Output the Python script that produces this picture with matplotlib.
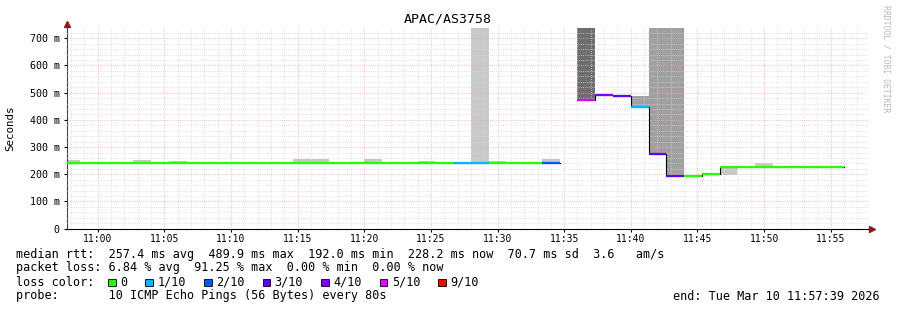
import numpy as np
import matplotlib.pyplot as plt

plt.rcParams['font.family'] = 'DejaVu Sans Mono'

# --- data ---
# one value per 80 s RRD step, first step starts at 10:57:20
step_min = 80 / 60
first_step = -2

median_s = [0.2415] * 22 + [0.2415, 0.2415] + [0.2415] * 3 + [0.2415] + \
    [np.nan, 0.474, 0.4915, 0.4867, 0.4485, 0.2735, 0.193, 0.193, 0.201] + [0.2282] * 7
loss_pings = [0] * 22 + [1, 1] + [0] * 3 + [2] + \
    [10, 5, 4, 3, 1, 3, 3, 0, 0] + [0] * 7

# smoke (spread of the 10 pings) for the steps where it shows
smoke_steps = [0, 4, 6, 13, 14, 17, 20, 23, 24, 27, 29, 32, 33, 34, 37, 39]
smoke_lo = [0.2415, 0.2415, 0.2415, 0.2415, 0.2415, 0.2415, 0.2415, 0.2415,
            0.2415, 0.2415, 0.474, 0.4485, 0.2735, 0.193, 0.1985, 0.2282]
smoke_hi = [0.251, 0.251, 0.248, 0.256, 0.256, 0.256, 0.249, 0.738,
            0.249, 0.256, 0.738, 0.488, 0.738, 0.738, 0.2282, 0.2415]
smoke_level = [0, 0, 0, 0, 0, 0, 0, 0, 0, 0, 2, 1, 1, 1, 0, 0]

yticks = [0, 0.1, 0.2, 0.3, 0.4, 0.5, 0.6, 0.7]
ytick_labels = ['0', '100 m', '200 m', '300 m', '400 m', '500 m', '600 m', '700 m']
xticks = list(range(0, 60, 5))
xtick_labels = ['11:%02d' % m for m in xticks]

loss_legend = ['0', '1/10', '2/10', '3/10', '4/10', '5/10', '9/10']
loss_legend_colors = ['#26ff00', '#00b8ff', '#0059ff', '#5e00ff', '#7e00ff', '#dd00ff', '#ff0000']

stats_lines = [
    'median rtt:  257.4 ms avg  489.9 ms max  192.0 ms min  228.2 ms now  70.7 ms sd  3.6   am/s',
    'packet loss: 6.84 % avg  91.25 % max  0.00 % min  0.00 % now',
    'loss color:',
    'probe:       10 ICMP Echo Pings (56 Bytes) every 80s',
]
end_text = 'end: Tue Mar 10 11:57:39 2026'


def loss_color(n):
    # smokeping picks the colour of the highest threshold <= loss
    thresholds = [0, 1, 2, 3, 4, 5, 9]
    idx = max(i for i, t in enumerate(thresholds) if n >= t)
    return loss_legend_colors[idx]


W, H = 897, 310
fig = plt.figure(figsize=(W / 100, H / 100), dpi=100)
fig.patch.set_facecolor('white')

left, right, top, bottom = 66.7, 868, 27, 228.7
ax = fig.add_axes([left / W, 1 - bottom / H, (right - left) / W, (bottom - top) / H])

starts = (np.arange(len(median_s)) + first_step) * step_min
median = np.array(median_s)

# smoke
shades = ['#c8c8c8', '#a0a0a0', '#6e6e6e']
sm_x = starts[smoke_steps]
ax.bar(sm_x, np.array(smoke_hi) - np.array(smoke_lo), width=step_min, bottom=smoke_lo,
       align='edge', color=[shades[l] for l in smoke_level], linewidth=0, zorder=1)

# black step outline of the median, then the loss-coloured segments
ax.step(np.append(starts, starts[-1] + step_min), np.append(median, median[-1]),
        where='post', color='black', lw=0.8, zorder=3)
seg_colors = [loss_color(n) for n in loss_pings]
ok = ~np.isnan(median)
ax.hlines(median[ok], starts[ok], starts[ok] + step_min,
          colors=[c for c, o in zip(seg_colors, ok) if o], lw=1.6, zorder=4)

ax.set_xlim(-2.33, 57.8)
ax.set_ylim(0, 0.7415)

ax.set_xticks(xticks)
ax.set_xticklabels(xtick_labels, fontsize=7)
ax.set_xticks(np.arange(-2, 58), minor=True)
ax.set_yticks(yticks)
ax.set_yticklabels(ytick_labels, fontsize=7.2)
ax.set_yticks(np.arange(0, 0.74, 0.02), minor=True)
ax.tick_params(which='major', length=2, width=0.8)
ax.tick_params(axis='x', which='major', pad=1.5)
ax.tick_params(axis='y', which='major', pad=3)
ax.tick_params(which='minor', length=0)

ax.set_axisbelow(False)
ax.grid(which='minor', color='#d6d6d6', lw=0.6, linestyle=(0, (1, 1.6)))
ax.grid(which='major', color='#f4aaaa', lw=0.6, linestyle=(0, (1, 1.6)))

for s in ['top', 'right']:
    ax.spines[s].set_visible(False)
ax.spines['left'].set_color('#404040')
ax.spines['bottom'].set_color('black')
ax.spines['left'].set_linewidth(0.8)
ax.spines['bottom'].set_linewidth(0.8)

# arrows at axis ends
ax.plot([0], [1.015], marker='^', color='#8b1a1a', ms=4, transform=ax.transAxes, clip_on=False)
ax.plot([1.0046], [0], marker='>', color='#8b1a1a', ms=4, transform=ax.transAxes, clip_on=False)

ax.set_ylabel('Seconds', fontsize=7.8)
ax.yaxis.set_label_coords(-(left - 15.5) / (right - left), 0.5)

fig.text(447.5 / W, 1 - 19 / H, 'APAC/AS3758', ha='center', va='center', fontsize=9.5)
fig.text(886 / W, 1 - 59 / H, 'RRDTOOL / TOBI OETIKER', rotation=-90, ha='center',
         va='center', fontsize=5.9, color='#b8b8b8')

# legend / stats block
line_y = [254.7, 268, 282.3, 296]
for txt, yy in zip(stats_lines, line_y):
    fig.text(16 / W, 1 - yy / H, txt, ha='left', va='center', fontsize=8.45)

char_w = 7.06
sx = 108
for lab, col in zip(loss_legend, loss_legend_colors):
    fig.patches.append(plt.Rectangle((sx / W, 1 - (282.3 + 3.8) / H), 7.5 / W, 7.5 / H,
                                     facecolor=col, edgecolor='black', lw=0.6,
                                     transform=fig.transFigure, figure=fig))
    fig.text((sx + 12) / W, 1 - 282.3 / H, lab, ha='left', va='center', fontsize=8.45)
    sx += 12 + len(lab) * char_w + 2.6 * char_w

fig.text(880 / W, 1 - 296 / H, end_text, ha='right', va='center', fontsize=8.45)

fig.savefig('out.png', dpi=100)
